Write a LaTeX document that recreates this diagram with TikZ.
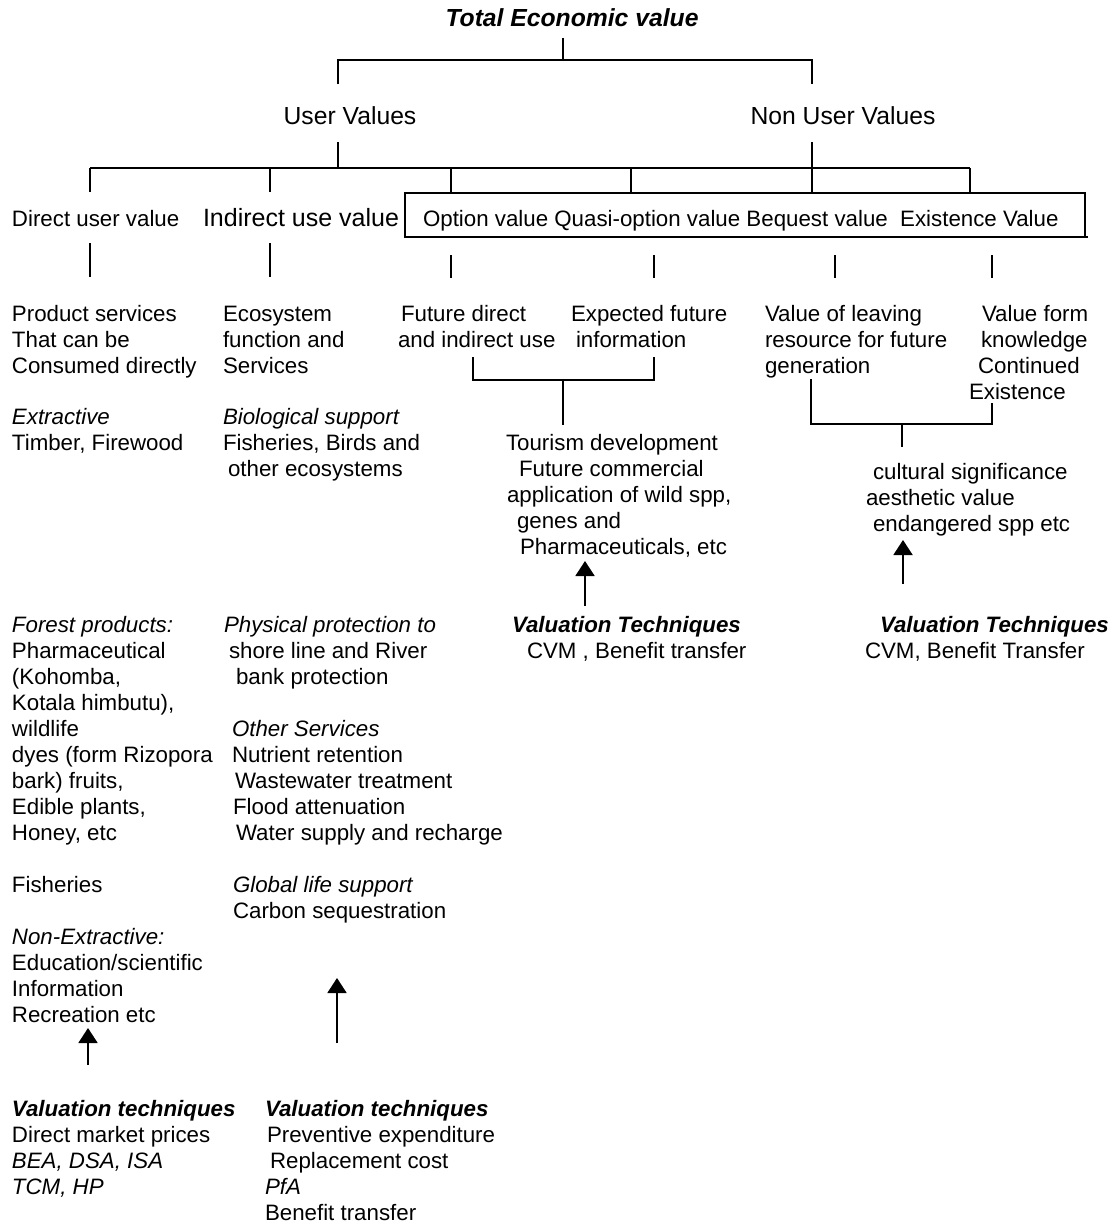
\documentclass[tikz,border=0pt]{standalone}
\usepackage{fontspec}
\setmainfont{Liberation Sans}
\usetikzlibrary{arrows.meta}
\newcommand\fl{\rule{0pt}{17pt}}
\tikzset{
  lbl/.style={inner sep=0pt, outer sep=0pt, anchor=north west, align=left, font=\fontsize{22.3}{26}\selectfont},
  big/.style={inner sep=0pt, outer sep=0pt, font=\fontsize{24.7}{28}\selectfont},
  conn/.style={line width=1.9pt},
  arr/.style={line width=1.9pt, -{Triangle[length=15pt,width=19pt]}}
}
\begin{document}
\begin{tikzpicture}[x=1pt,y=-1pt]
\useasboundingbox (0,0) rectangle (1115,1223);
% top levels
\node[big, anchor=base, font=\fontsize{24.7}{28}\selectfont\bfseries\itshape] (tev) at (572,27) {Total Economic value};
\node[big, anchor=base] (uv) at (350,124) {User Values};
\node[big, anchor=base] (nuv) at (843,124) {Non User Values};
% row of value types
\node[lbl, anchor=base west] (duv) at (12,226) {Direct user value};
\node[big, anchor=base west, font=\fontsize{25}{28}\selectfont] (iuv) at (203,226) {Indirect use value};
\node[lbl, anchor=base west] (nbox) at (423,226) {Option value Quasi-option value Bequest value\ \ Existence Value};
\draw[conn] (405,193) rectangle (1085,237);
\draw[conn] (1085,237) -- (1088,237);
% tree lines
\coordinate (t0) at (563,38);
\coordinate (t1) at (563,60);
\coordinate (uL) at (338,60);
\coordinate (uR) at (812,60);
\draw[conn] (t0) -- (t1);
\draw[conn] (338,84) -- (uL) -- (uR) -- (812,84);
\draw[conn] (338,142) -- (338,168);
\draw[conn] (812,142) -- (812,193);
\draw[conn] (90,168) -- (970,168);
\foreach \x in {90,270} \draw[conn] (\x,168) -- (\x,192);
\foreach \x in {451,631,970} \draw[conn] (\x,168) -- (\x,193);
\foreach \x in {90,270} \draw[conn] (\x,243) -- (\x,277);
\foreach \x in {451,654,835,992} \draw[conn] (\x,255) -- (\x,278);
% left column
\node[lbl] (dA) at (12,304) {\fl Product services\\That can be\\Consumed directly};
\node[lbl] (dB) at (12,407) {\fl\textit{Extractive}\\Timber, Firewood};
\node[lbl] (dC) at (12,615) {\fl\textit{Forest products:}\\Pharmaceutical\\(Kohomba,\\Kotala himbutu),\\wildlife\\dyes (form Rizopora\\bark) fruits,\\Edible plants,\\Honey, etc};
\node[lbl] (dD) at (12,875) {\fl Fisheries};
\node[lbl] (dE) at (12,927) {\fl\textit{Non-Extractive:}\\Education/scientific\\Information\\Recreation etc};
\node[lbl] (dF) at (12,1099) {\fl\textbf{\textit{Valuation techniques}}\\Direct market prices\\\textit{BEA, DSA, ISA}\\\textit{TCM, HP}};
% second column
\node[lbl] (iA) at (223,304) {\fl Ecosystem\\function and\\Services};
\node[lbl] (iB) at (223,407) {\fl\textit{Biological support}\\Fisheries, Birds and\\\hspace*{5pt}other ecosystems};
\node[lbl] (iC) at (224,615) {\fl\textit{Physical protection to}\\\hspace*{5pt}shore line and River\\\hspace*{12pt}bank protection};
\node[lbl] (iD) at (232,719) {\fl\textit{Other Services}\\Nutrient retention\\\hspace*{3pt}Wastewater treatment\\\hspace*{1pt}Flood attenuation\\\hspace*{4pt}Water supply and recharge};
\node[lbl] (iE) at (233,875) {\fl\textit{Global life support}\\Carbon sequestration};
\node[lbl] (iF) at (265,1099) {\fl\textbf{\textit{Valuation techniques}}\\\hspace*{2pt}Preventive expenditure\\\hspace*{5pt}Replacement cost\\\textit{PfA}\\Benefit transfer};
% option / quasi-option
\node[lbl] (oA) at (398,304) {\fl\hspace*{3pt}Future direct\\and indirect use};
\node[lbl] (oB) at (571,304) {\fl Expected future\\\hspace*{5pt}information};
\node[lbl] (oC) at (506,433) {\fl Tourism development\\\hspace*{13pt}Future commercial\\\hspace*{1pt}application of wild spp,\\\hspace*{11pt}genes and\\\hspace*{14pt}Pharmaceuticals, etc};
\node[lbl] (oD) at (512,615) {\fl\textbf{\textit{Valuation Techniques}}\\\hspace*{15pt}CVM , Benefit transfer};
% bequest / existence
\node[lbl] (bA) at (765,304) {\fl Value of leaving\\resource for future\\generation};
\node[lbl] (bB) at (969,304) {\fl\hspace*{13pt}Value form\\\hspace*{12pt}knowledge\\\hspace*{9pt}Continued\\Existence};
\node[lbl] (bC) at (866,462) {\fl\hspace*{7pt}cultural significance\\aesthetic value\\\hspace*{7pt}endangered spp etc};
\node[lbl] (bD) at (865,615) {\fl\hspace*{15pt}\textbf{\textit{Valuation Techniques}}\\CVM, Benefit Transfer};
% brackets
\coordinate (oa) at (473,357);
\coordinate (ob) at (654,357);
\coordinate (oj) at (563,380);
\coordinate (oc) at (563,425);
\draw[conn] (oa) -- (473,380) -- (654,380) -- (ob);
\draw[conn] (oj) -- (oc);
\coordinate (ba) at (811,379);
\coordinate (bb) at (992,403);
\coordinate (bj) at (902,424);
\coordinate (bc) at (902,447);
\draw[conn] (ba) -- (811,424) -- (992,424) -- (bb);
\draw[conn] (bj) -- (bc);
% arrows
\coordinate (a1s) at (88,1065); \coordinate (a1e) at (88,1028);
\coordinate (a2s) at (337,1043); \coordinate (a2e) at (337,978);
\coordinate (a3s) at (585,606); \coordinate (a3e) at (585,561);
\coordinate (a4s) at (903,584); \coordinate (a4e) at (903,540);
\draw[arr] (a1s) -- (a1e);
\draw[arr] (a2s) -- (a2e);
\draw[arr] (a3s) -- (a3e);
\draw[arr] (a4s) -- (a4e);
\end{tikzpicture}
\end{document}
